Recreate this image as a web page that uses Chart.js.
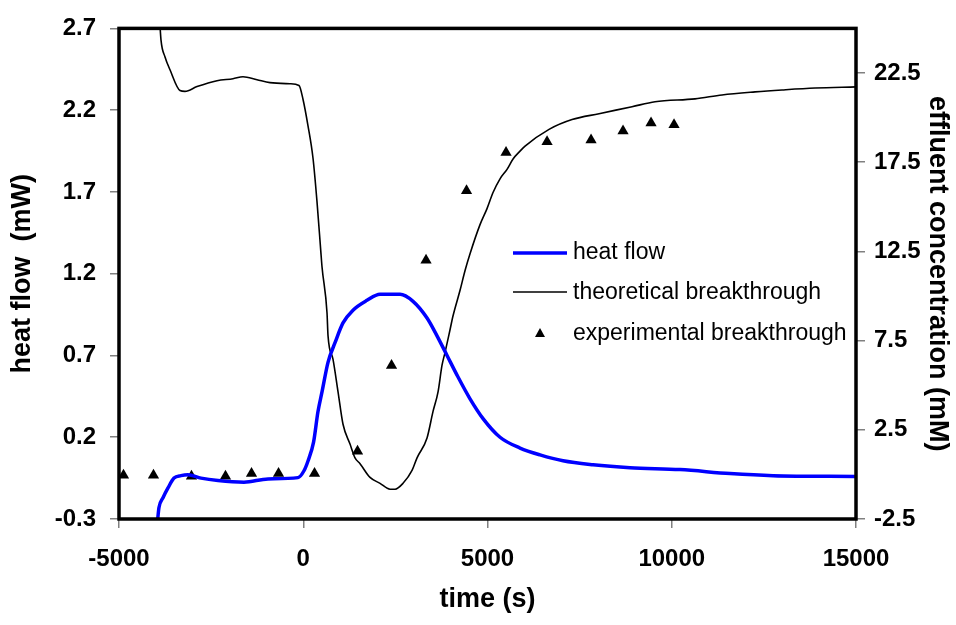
<!DOCTYPE html>
<html>
<head>
<meta charset="utf-8">
<script src="https://cdn.jsdelivr.net/npm/chart.js@4"></script>
<style>
  html, body { margin: 0; padding: 0; background: #fff; }
</style>
</head>
<body>
<canvas id="chart" width="956" height="625"></canvas>
<script>
// Tick labels
const xTicks = [-5000, 0, 5000, 10000, 15000];
const heatTicks = [-0.3, 0.2, 0.7, 1.2, 1.7, 2.2, 2.7];
const concTicks = [-2.5, 2.5, 7.5, 12.5, 17.5, 22.5];

// heat flow (mW)
const heatTime = [-3950, -3915, -3806, -3670, -3507, -3317, -3128, -2775, -2313, -1608, -957, -143, 20, 129, 280, 400, 509, 672, 862, 1079, 1350, 1730, 2083, 2626, 2979, 3359, 3630, 3902, 4173, 4526, 4879, 5340, 5883, 6426, 7050, 7864, 8868, 10225, 11582, 12749, 15000];
const heatFlow = [-0.30, -0.23, -0.17, -0.11, -0.05, -0.035, -0.03, -0.05, -0.065, -0.075, -0.055, -0.047, -0.005, 0.055, 0.17, 0.357, 0.477, 0.658, 0.778, 0.899, 0.977, 1.037, 1.074, 1.074, 1.031, 0.929, 0.82, 0.70, 0.58, 0.435, 0.314, 0.20, 0.134, 0.092, 0.056, 0.032, 0.014, 0.002, -0.022, -0.035, -0.04];

// theoretical breakthrough (mM)
const theoTime = [-3900, -3860, -3751, -3616, -3345, -3209, -2883, -2340, -1906, -1635, -1255, -902, -360, -115, -7, 129, 265, 373, 482, 509, 645, 672, 808, 944, 1079, 1269, 1405, 1541, 1812, 2084, 2355, 2491, 2708, 2952, 3088, 3359, 3522, 3658, 3766, 3848, 3983, 4065, 4255, 4391, 4526, 4797, 4987, 5150, 5340, 5530, 5693, 5883, 6019, 6670, 7294, 8027, 8922, 9546, 10632, 11365, 12260, 12993, 13889, 15000];
const theoConc = [25.6, 24.34, 23.4, 22.68, 21.52, 21.47, 21.74, 22.07, 22.18, 22.29, 22.12, 21.96, 21.9, 21.8, 21.03, 19.54, 17.72, 15.29, 12.35, 11.64, 9.05, 7.78, 6.45, 4.63, 2.81, 1.70, 0.93, 0.6, -0.17, -0.50, -0.83, -0.83, -0.50, 0.22, 0.93, 2.04, 3.53, 4.63, 6.12, 6.84, 8.11, 8.89, 10.32, 11.43, 12.37, 14.0, 14.9, 15.8, 16.57, 17.1, 17.68, 18.12, 18.4, 19.34, 19.89, 20.22, 20.61, 20.89, 21.05, 21.27, 21.44, 21.55, 21.66, 21.72];

// experimental breakthrough (mM)
const expTime = [-4878, -4064, -3033, -2110, -1404, -671, 306, 1473, 2396, 3332, 4431, 5503, 6616, 7810, 8678, 9438, 10062];
const expConc = [-0.05, -0.05, -0.1, -0.1, 0.05, 0.05, 0.05, 1.3, 6.1, 12.0, 15.9, 18.05, 18.65, 18.75, 19.25, 19.7, 19.6];

const FONT = '"Liberation Sans", Arial, sans-serif';

const toXY = (xs, ys) => xs.map((x, i) => ({ x: x, y: ys[i] }));

// legend sits inside the plot, drawn by hand
const insideLegend = {
    id: 'insideLegend',
    afterDraw(chart) {
        const ctx = chart.ctx;
        const baselines = [259, 299, 340];
        const marks = [253, 292, 333];
        ctx.save();
        ctx.font = '23px ' + FONT;
        ctx.textBaseline = 'alphabetic';
        chart.data.datasets.forEach((ds, i) => {
            if (ds.showLine === false) {
                ctx.fillStyle = ds.backgroundColor;
                ctx.beginPath();
                ctx.moveTo(540, marks[i] - 5);
                ctx.lineTo(545, marks[i] + 4);
                ctx.lineTo(535, marks[i] + 4);
                ctx.closePath();
                ctx.fill();
            } else {
                ctx.strokeStyle = ds.borderColor;
                ctx.lineWidth = ds.borderWidth;
                ctx.beginPath();
                ctx.moveTo(513, marks[i]);
                ctx.lineTo(567, marks[i]);
                ctx.stroke();
            }
            ctx.fillStyle = '#000';
            ctx.fillText(ds.label, 573, baselines[i]);
        });
        ctx.restore();
    }
};

// thick black box round the plot area
const plotFrame = {
    id: 'plotFrame',
    afterDatasetsDraw(chart) {
        const a = chart.chartArea;
        const ctx = chart.ctx;
        ctx.save();
        ctx.strokeStyle = '#000';
        ctx.lineWidth = 3.5;
        ctx.strokeRect(a.left, a.top, a.right - a.left, a.bottom - a.top);
        ctx.restore();
    }
};

const tickFont = { family: FONT, size: 24, weight: 'bold' };
const titleFont = { family: FONT, size: 27, weight: 'bold', lineHeight: 1.2 };
const tickGrid = { drawOnChartArea: false, tickLength: 9, color: '#808080', lineWidth: 1.5 };

new Chart(document.getElementById('chart'), {
    type: 'line',
    data: {
        datasets: [
            {
                label: 'heat flow',
                data: toXY(heatTime, heatFlow),
                yAxisID: 'y',
                borderColor: '#0000FF',
                borderWidth: 3.5,
                pointRadius: 0,
                cubicInterpolationMode: 'monotone'
            },
            {
                label: 'theoretical breakthrough',
                data: toXY(theoTime, theoConc),
                yAxisID: 'y1',
                borderColor: '#000000',
                borderWidth: 1.6,
                pointRadius: 0,
                cubicInterpolationMode: 'monotone'
            },
            {
                label: 'experimental breakthrough',
                data: toXY(expTime, expConc),
                yAxisID: 'y1',
                showLine: false,
                pointStyle: 'triangle',
                pointRadius: 6.5,
                backgroundColor: '#000000',
                borderColor: '#000000',
                borderWidth: 0
            }
        ]
    },
    options: {
        responsive: false,
        animation: false,
        layout: { padding: { top: 21, left: 0, right: 0, bottom: 0 } },
        plugins: {
            legend: { display: false },
            tooltip: { enabled: false }
        },
        scales: {
            x: {
                type: 'linear',
                position: 'bottom',
                min: -5000,
                max: 15000,
                afterBuildTicks: s => { s.ticks = xTicks.map(v => ({ value: v })); },
                afterFit: s => { s.height = 106; },
                grid: tickGrid,
                border: { display: false },
                ticks: { padding: 17, color: '#000', font: tickFont, maxRotation: 0, autoSkip: false, callback: v => String(v) },
                title: { display: true, text: 'time (s)', color: '#000', font: titleFont, padding: { top: 0, bottom: 9 } }
            },
            y: {
                type: 'linear',
                position: 'left',
                min: -0.3,
                max: 2.7,
                afterBuildTicks: s => { s.ticks = heatTicks.map(v => ({ value: v })); },
                afterFit: s => { s.width = 119; },
                grid: tickGrid,
                border: { display: false },
                ticks: { padding: 14, color: '#000', font: tickFont, callback: v => v.toFixed(1) },
                title: { display: true, text: 'heat flow  (mW)', color: '#000', font: titleFont, padding: { top: 6, bottom: 0 } }
            },
            y1: {
                type: 'linear',
                position: 'right',
                min: -2.5,
                max: 25,
                afterBuildTicks: s => { s.ticks = concTicks.map(v => ({ value: v })); },
                afterFit: s => { s.width = 100; },
                grid: tickGrid,
                border: { display: false },
                ticks: { padding: 9, color: '#000', font: tickFont, callback: v => v.toFixed(1) },
                title: { display: true, text: 'effluent concentration (mM)', color: '#000', font: titleFont, padding: { top: 2, bottom: 0 } }
            }
        }
    },
    plugins: [plotFrame, insideLegend]
});
</script>
</body>
</html>
